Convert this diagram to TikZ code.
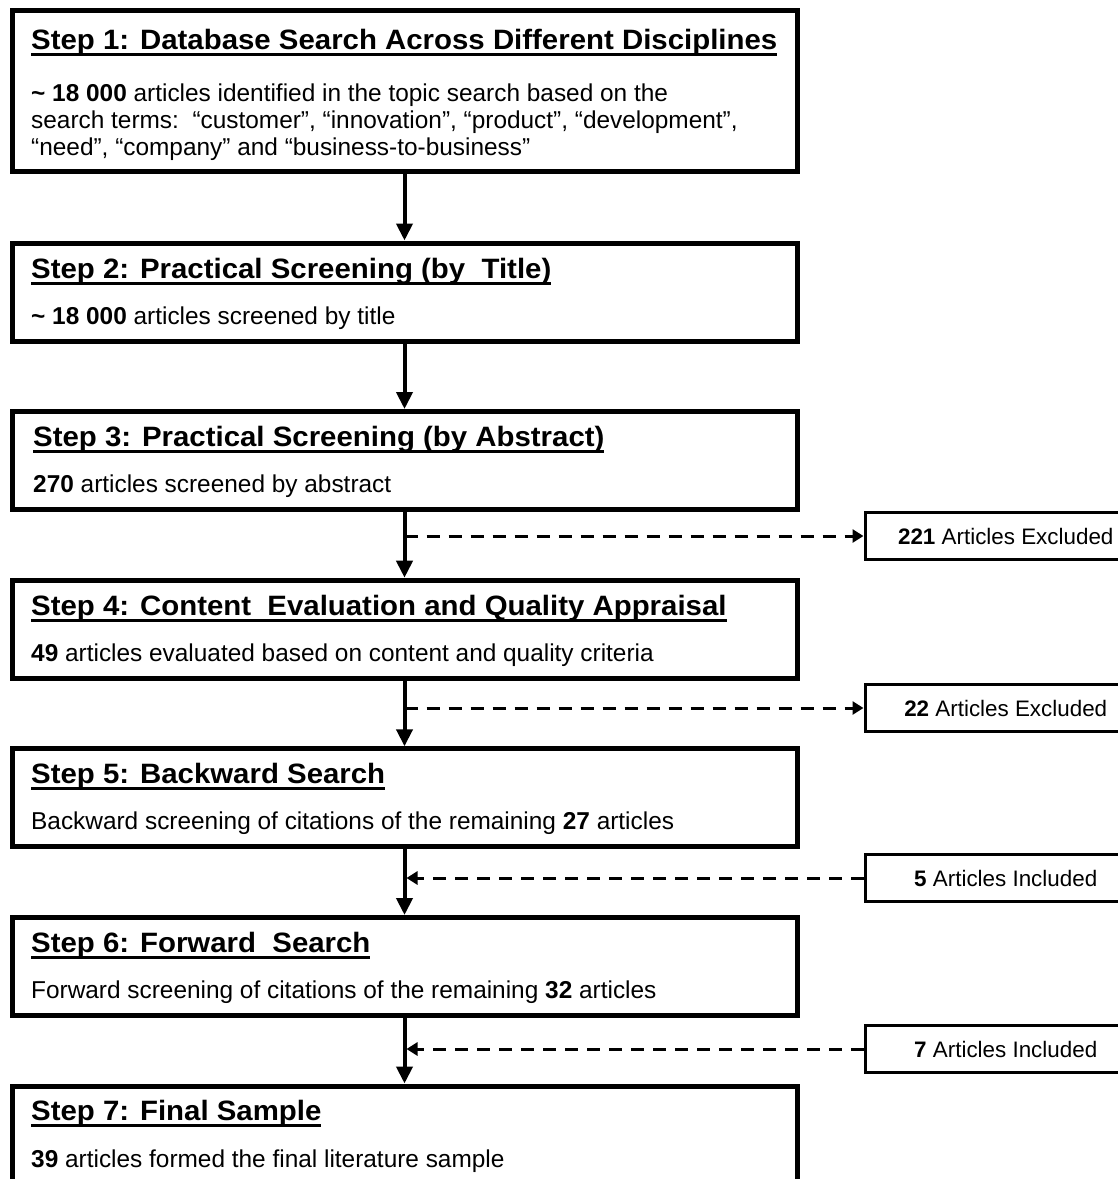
\documentclass[tikz,border=0pt]{standalone}
\usepackage{fontspec}
\setmainfont{Liberation Sans}
\newfontfamily\ttlfont{Liberation Sans}[FakeStretch=1.05]
\newfontfamily\bdyfont{Liberation Sans}[FakeStretch=1.0]
\usetikzlibrary{arrows.meta,calc}
\newcommand\myul[1]{\setbox0\hbox{#1}\rlap{\vrule height -3.5pt depth 6.5pt width \wd0}\box0}
\begin{document}
\begin{tikzpicture}[x=1pt,y=-1pt,
  stepbox/.style={draw,line width=5pt,rectangle,inner sep=0pt,anchor=north west,minimum width=785pt},
  sidebox/.style={draw,line width=3pt,rectangle,inner sep=0pt,anchor=west,minimum width=281.5pt,minimum height=47pt,font=\bdyfont\fontsize{22.4}{26}\selectfont},
  ttl/.style={anchor=base west,inner sep=0pt,font=\ttlfont\bfseries\fontsize{28}{32}\selectfont},
  bdy/.style={anchor=base west,inner sep=0pt,font=\bdyfont\fontsize{24.4}{28}\selectfont},
  mainarrow/.style={line width=4pt,-{Triangle[length=17pt,width=16pt]}},
  dasharrow/.style={line width=3pt,dash pattern=on 13pt off 9pt,-{Triangle[length=11pt,width=13pt]}}]
\clip (0,0) rectangle (1118,1179);
\fill[white] (0,0) rectangle (1118,1179);

% main step boxes
\node[stepbox,minimum height=161pt] (box1) at (9.5,7.5) {};
\node[stepbox,minimum height=98pt] (box2) at (9.5,240.5) {};
\node[stepbox,minimum height=98pt] (box3) at (9.5,409) {};
\node[stepbox,minimum height=98pt] (box4) at (9.5,577.7) {};
\node[stepbox,minimum height=98pt] (box5) at (9.5,746.3) {};
\node[stepbox,minimum height=98pt] (box6) at (9.5,915) {};
\node[stepbox,minimum height=140pt] (box7) at (9.5,1083.5) {};

% texts
\node[ttl] (t1) at (31,49) {\myul{Step 1: Database Search Across Different Disciplines}};
\node[bdy] (b1a) at (31,101) {\textbf{\textasciitilde{} 18 000} articles identified in the topic search based on the};
\node[bdy] (b1b) at (31,128) {search terms:\ \ “customer”, “innovation”, “product”, “development”,};
\node[bdy] (b1c) at (31,155) {“need”, “company” and “business-to-business”};

\node[ttl] (t2) at (31,278) {\myul{Step 2: Practical Screening (by\ \ Title)}};
\node[bdy] (b2) at (31,324) {\textbf{\textasciitilde{} 18 000} articles screened by title};

\node[ttl] (t3) at (33,446.5) {\myul{Step 3: Practical Screening (by Abstract)}};
\node[bdy] (b3) at (33,492.5) {\textbf{270} articles screened by abstract};

\node[ttl] (t4) at (31,615) {\myul{Step 4: Content\ \ Evaluation and Quality Appraisal}};
\node[bdy] (b4) at (31,661) {\textbf{49} articles evaluated based on content and quality criteria};

\node[ttl] (t5) at (31,783.5) {\myul{Step 5: Backward Search}};
\node[bdy] (b5) at (31,829.5) {Backward screening of citations of the remaining \textbf{27} articles};

\node[ttl] (t6) at (31,952) {\myul{Step 6: Forward\ \ Search}};
\node[bdy] (b6) at (31,998) {Forward screening of citations of the remaining \textbf{32} articles};

\node[ttl] (t7) at (31,1120.5) {\myul{Step 7: Final Sample}};
\node[bdy] (b7) at (31,1167) {\textbf{39} articles formed the final literature sample};

% side boxes
\node[sidebox] (ex1) at (863.5,536) {\textbf{221} Articles Excluded};
\node[sidebox] (ex2) at (863.5,708) {\textbf{22} Articles Excluded};
\node[sidebox] (in1) at (863.5,878) {\textbf{5} Articles Included};
\node[sidebox] (in2) at (863.5,1049) {\textbf{7} Articles Included};

% main arrows
\draw[mainarrow] (box1.south) -- (box2.north);
\draw[mainarrow] (box2.south) -- (box3.north);
\draw[mainarrow] (box3.south) -- (box4.north);
\draw[mainarrow] (box4.south) -- (box5.north);
\draw[mainarrow] (box5.south) -- (box6.north);
\draw[mainarrow] (box6.south) -- (box7.north);

% dashed side connectors
\coordinate (c3) at (box3.south |- ex1.west);
\coordinate (c4) at (box4.south |- ex2.west);
\coordinate (c5) at ($(box5.south |- in1.west)+(2,0)$);
\coordinate (c6) at ($(box6.south |- in2.west)+(2,0)$);
\draw[dasharrow] (c3) -- (ex1.west);
\draw[dasharrow] (c4) -- (ex2.west);
\draw[dasharrow] (in1.west) -- (c5);
\draw[dasharrow] (in2.west) -- (c6);
\end{tikzpicture}
\end{document}
